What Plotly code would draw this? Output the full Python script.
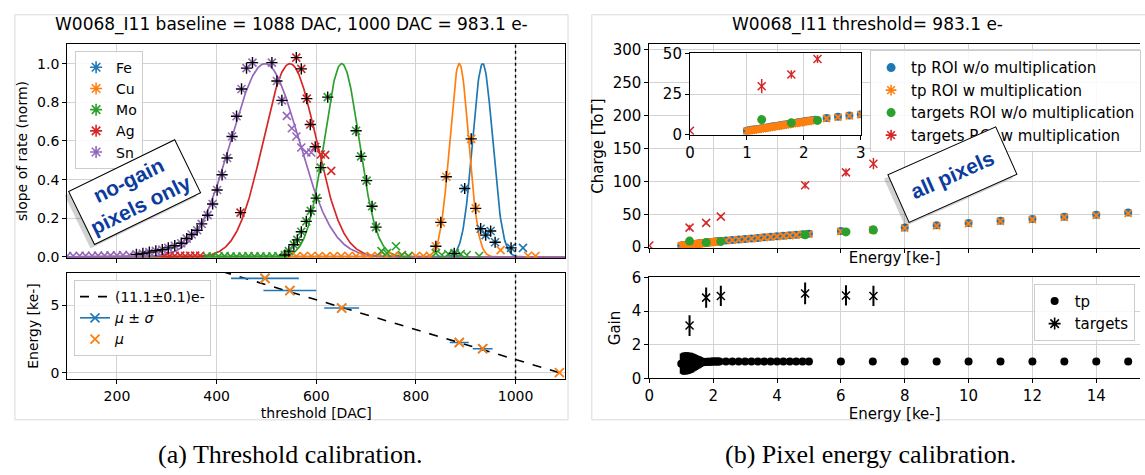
import numpy as np
import plotly.graph_objects as go

W, H = 1145, 475

# ---------------- (a) threshold calibration ----------------
elements = ["Fe", "Cu", "Mo", "Ag", "Sn"]
colors = ["#1f77b4", "#ff7f0e", "#2ca02c", "#d62728", "#9467bd"]
mu_dac = [934, 887, 651, 547, 497]
sigma_dac = [20, 19, 35, 53, 68]
energy_ke = [1.78, 2.24, 4.80, 6.10, 7.00]
baseline_dac = 1088
baseline_energy = 0.0
slope_e_per_dac = 11.1
threshold_dac = 1000

fe_dac = [877, 898, 930, 940, 950, 959, 991, 1015]
fe_rate = [0.018, 0.354, 0.146, 0.113, 0.134, 0.076, 0.047, 0.047]
fe_fit = [1, 1, 1, 1, 1, 1, 1, 0]

cu_dac = [545, 560, 575, 590, 605, 620, 635, 650, 665, 680, 695, 710, 725, 740, 755, 770, 785, 800, 815, 828,
          840, 850, 861, 911, 920, 970, 1025, 1040]
cu_rate = [0.004, 0.003, 0.004, 0.005, 0.004, 0.003, 0.004, 0.004, 0.005, 0.004, 0.003, 0.004, 0.004, 0.005,
           0.004, 0.004, 0.003, 0.004, 0.005, 0.006, 0.055, 0.179, 0.415, 0.611, 0.251, 0.035, 0.006, 0.005]
cu_fit = [0] * 20 + [1] * 5 + [0] * 3

mo_dac = [380, 392, 404, 416, 428, 440, 452, 464, 476, 488, 500, 512, 524,
          537, 545, 555, 562, 570, 580, 589, 600, 609, 623, 680, 690, 701, 712, 720,
          731, 742, 760, 772, 785, 840, 852, 865, 878, 890, 902, 927]
mo_rate = [0.003, 0.002, 0.003, 0.004, 0.003, 0.002, 0.003, 0.004, 0.003, 0.003, 0.002, 0.003, 0.004,
           0.010, 0.030, 0.063, 0.088, 0.130, 0.184, 0.238, 0.304, 0.462, 0.827, 0.653, 0.520, 0.395, 0.262, 0.154,
           0.030, 0.020, 0.055, 0.010, 0.005, 0.020, 0.010, 0.015, 0.020, 0.015, 0.010, 0.005]
mo_fit = [0] * 13 + [1] * 15 + [0] * 12

ag_dac = [296, 306, 316, 327, 337, 347, 357, 367, 448, 560, 570, 581, 588, 598, 609, 618, 630]
ag_rate = [0.006, 0.005, 0.006, 0.007, 0.005, 0.006, 0.007, 0.006,
           0.229, 1.031, 0.973, 0.819, 0.685, 0.570, 0.530, 0.528, 0.445]
ag_fit = [0] * 8 + [1] * 6 + [0] * 3

sn_dac = [100, 112, 125, 137, 150, 162, 175, 187, 200, 212, 225,
          239, 252, 265, 278, 291, 303, 316, 329, 340, 350, 361, 370, 382, 392, 401, 411, 421, 431, 440, 450,
          460, 472, 511, 521, 531, 541, 551, 560, 570, 580, 590]
sn_rate = [0.005, 0.005, 0.006, 0.006, 0.006, 0.007, 0.007, 0.008, 0.008, 0.009, 0.010,
           0.013, 0.018, 0.025, 0.032, 0.038, 0.047, 0.058, 0.071, 0.095, 0.116, 0.138, 0.171, 0.216, 0.274,
           0.346, 0.425, 0.512, 0.623, 0.728, 0.869, 0.977, 1.005, 1.005, 0.910, 0.810,
           0.730, 0.666, 0.623, 0.566, 0.541, 0.540]
sn_fit = [0] * 11 + [1] * 25 + [0] * 6

scans = [(fe_dac, fe_rate, fe_fit), (cu_dac, cu_rate, cu_fit), (mo_dac, mo_rate, mo_fit),
         (ag_dac, ag_rate, ag_fit), (sn_dac, sn_rate, sn_fit)]

# ---------------- (b) pixel energy calibration ----------------
tp_energy = [1.00, 1.04, 1.08, 1.12, 1.16, 1.20, 1.24, 1.28, 1.32, 1.36, 1.40, 1.44, 1.48, 1.52, 1.56, 1.60,
             1.64, 1.68, 1.72, 1.76, 1.80, 1.84, 1.88, 1.92, 1.96, 2.00, 2.04, 2.08, 2.12, 2.16, 2.20,
             2.4, 2.6, 2.8, 3.0, 3.2, 3.4, 3.6, 3.8, 4.0, 4.2, 4.4, 4.6, 4.8, 5.0,
             6, 7, 8, 9, 10, 11, 12, 13, 14, 15]
tp_charge_nomult = [2.5, 2.7, 3.0, 3.2, 3.4, 3.6, 3.9, 4.1, 4.3, 4.5, 4.8, 5.0, 5.2, 5.4, 5.7, 5.9,
                    6.1, 6.3, 6.6, 6.8, 7.0, 7.2, 7.5, 7.7, 7.9, 8.1, 8.4, 8.6, 8.8, 9.0, 9.2,
                    10.3, 11.0, 11.8, 12.6, 13.4, 14.2, 15.0, 15.8, 16.6, 17.4, 18.2, 19.0, 19.8, 20.6,
                    24.5, 27.0, 29.8, 33.2, 36.6, 40.3, 43.0, 46.3, 49.3, 52.6]
tp_charge_mult = [2.2, 2.4, 2.7, 2.9, 3.2, 3.4, 3.6, 3.8, 4.1, 4.3, 4.5, 4.7, 5.0, 5.2, 5.4, 5.6,
                  5.9, 6.1, 6.3, 6.5, 6.8, 7.0, 7.2, 7.4, 7.7, 7.9, 8.1, 8.3, 8.6, 8.8, 9.0,
                  10.0, 10.8, 11.6, 12.3, 13.1, 13.9, 14.7, 15.5, 16.3, 17.1, 17.9, 18.6, 19.4, 20.2,
                  23.8, 26.4, 29.0, 32.4, 35.8, 39.4, 42.2, 45.4, 48.4, 51.4]
tp_gain = [0.88, 0.88, 0.88, 0.89, 0.89, 0.90, 0.90, 0.91, 0.92, 0.93, 0.94, 0.94, 0.95, 0.96, 0.96, 0.97,
           0.97, 0.98, 0.98, 0.98, 0.99, 0.99, 0.99, 0.99, 1.00, 1.00, 1.00, 1.00, 1.00, 1.00, 1.00,
           1.00, 1.00, 1.00, 1.00, 1.00, 1.00, 1.00, 1.00, 1.00, 1.00, 1.00, 1.00, 1.00, 1.00,
           1.00, 1.00, 1.00, 1.00, 1.00, 1.00, 1.00, 1.00, 1.00, 1.00]
tp_gain_err = [0.60, 0.64, 0.66, 0.66, 0.66, 0.65, 0.64, 0.62, 0.60, 0.57, 0.53, 0.49, 0.45, 0.41, 0.37, 0.33,
               0.29, 0.25, 0.22, 0.19, 0.16, 0.14, 0.12, 0.10, 0.09, 0.08, 0.07, 0.06, 0.05, 0.05, 0.05,
               0.03, 0.03, 0.03, 0.03, 0.03, 0.03, 0.03, 0.03, 0.03, 0.03, 0.03, 0.03, 0.03, 0.03,
               0.02, 0.02, 0.02, 0.02, 0.02, 0.02, 0.02, 0.02, 0.02, 0.02]

tg_energy = [1.26, 1.78, 2.24, 4.88, 6.16, 7.02]
tg_charge_nomult = [9.3, 7.3, 8.8, 18.8, 23.3, 26.0]
tgm_energy = [0.0, 1.26, 1.78, 2.24, 4.88, 6.16, 7.02]
tgm_charge = [2.5, 29.8, 37.0, 46.5, 94.0, 113.6, 126.8]
tgm_charge_err = [0.5, 4.4, 2.5, 2.5, 5.0, 6.0, 8.5]
tg_gain = [3.14, 4.80, 4.90, 5.05, 4.93, 4.90]
tg_gain_err = [0.62, 0.60, 0.60, 0.65, 0.60, 0.60]

FONT = "DejaVu Sans"
TXT_BLUE = "#0b3c9e"


def open_marker(symbol, size, color, width):
    return dict(symbol=symbol, size=size, color=color, line=dict(color=color, width=width))


fig = go.Figure()

# ---- top-left: fitted gaussians + scans ----
grid = np.linspace(100, 1100, 801)
for i, el in enumerate(elements):
    fig.add_trace(go.Scatter(x=grid, y=np.exp(-0.5 * ((grid - mu_dac[i]) / sigma_dac[i]) ** 2),
                             mode="lines", line=dict(color=colors[i], width=1.7),
                             showlegend=False, xaxis="x", yaxis="y", hoverinfo="skip"))
for i, el in enumerate(elements):
    d, r, f = scans[i]
    fig.add_trace(go.Scatter(x=d, y=r, mode="markers", showlegend=False, xaxis="x", yaxis="y",
                             marker=open_marker("x-thin-open", 8, colors[i], 1.6)))
for i, el in enumerate(elements):
    d, r, f = scans[i]
    fd = [a for a, k in zip(d, f) if k]
    fr = [b for b, k in zip(r, f) if k]
    fig.add_trace(go.Scatter(x=fd, y=fr, mode="markers", showlegend=False, xaxis="x", yaxis="y",
                             marker=open_marker("cross-thin-open", 8, "black", 1.4)))
for i, el in enumerate(elements):
    fig.add_trace(go.Scatter(x=[None], y=[None], mode="markers", name=el, legend="legend",
                             xaxis="x", yaxis="y", marker=open_marker("asterisk-open", 10, colors[i], 1.6)))

# ---- bottom-left: calibration ----
line_dac = np.array([100, 1100])
fig.add_trace(go.Scatter(x=line_dac, y=(baseline_dac - line_dac) * slope_e_per_dac / 1000.0,
                         mode="lines", name="(11.1±0.1)e-", legend="legend2",
                         line=dict(color="black", width=1.6, dash="dash"), xaxis="x2", yaxis="y2"))
fig.add_trace(go.Scatter(x=mu_dac, y=energy_ke, mode="markers", showlegend=False,
                         error_x=dict(type="data", array=sigma_dac, color=colors[0], thickness=1.6, width=0),
                         marker=open_marker("x-thin-open", 9, colors[0], 1.6),
                         xaxis="x2", yaxis="y2"))
fig.add_trace(go.Scatter(x=[None], y=[None], mode="lines+markers", name="<i>μ</i> ± <i>σ</i>", legend="legend2",
                         line=dict(color=colors[0], width=1.6),
                         marker=open_marker("x-thin-open", 9, colors[0], 1.6),
                         xaxis="x2", yaxis="y2"))
fig.add_trace(go.Scatter(x=mu_dac + [baseline_dac], y=energy_ke + [baseline_energy], mode="markers",
                         name="<i>μ</i>", legend="legend2",
                         marker=open_marker("x-thin-open", 9, colors[1], 1.8),
                         xaxis="x2", yaxis="y2"))

# ---- top-right main + inset ----
for xa, ya in [("x3", "y3"), ("x5", "y5")]:
    fig.add_trace(go.Scatter(x=tp_energy, y=tp_charge_nomult, mode="markers", showlegend=False,
                             marker=dict(symbol="circle", size=8, color=colors[0]), xaxis=xa, yaxis=ya))
    fig.add_trace(go.Scatter(x=tp_energy, y=tp_charge_mult, mode="markers", showlegend=False,
                             marker=open_marker("x-thin-open", 7, colors[1], 2.0),
                             xaxis=xa, yaxis=ya))
    fig.add_trace(go.Scatter(x=tg_energy, y=tg_charge_nomult, mode="markers", showlegend=False,
                             marker=dict(symbol="circle", size=9, color=colors[2]), xaxis=xa, yaxis=ya))
    fig.add_trace(go.Scatter(x=tgm_energy, y=tgm_charge, mode="markers", showlegend=False,
                             error_y=dict(type="data", array=tgm_charge_err, color=colors[3], thickness=1.5, width=0),
                             marker=open_marker("x-thin-open", 8, colors[3], 1.5),
                             xaxis=xa, yaxis=ya))

legend3_items = [("tp ROI w/o multiplication", "circle", colors[0]),
                 ("tp ROI w multiplication", "asterisk-open", colors[1]),
                 ("targets ROI w/o multiplication", "circle", colors[2]),
                 ("targets ROI w multiplication", "asterisk-open", colors[3])]
for name, sym, col in legend3_items:
    mk = open_marker(sym, 9, col, 1.6) if sym.endswith("open") else dict(symbol=sym, size=9, color=col)
    fig.add_trace(go.Scatter(x=[None], y=[None], mode="markers", name=name, legend="legend3",
                             marker=mk, xaxis="x3", yaxis="y3"))

# ---- bottom-right gain ----
fig.add_trace(go.Scatter(x=tp_energy, y=tp_gain, mode="markers", name="tp", legend="legend4",
                         error_y=dict(type="data", array=tp_gain_err, color="black", thickness=3, width=0),
                         marker=dict(symbol="circle", size=8, color="black"), xaxis="x4", yaxis="y4"))
fig.add_trace(go.Scatter(x=tg_energy, y=tg_gain, mode="markers", showlegend=False,
                         error_y=dict(type="data", array=tg_gain_err, color="black", thickness=2, width=0),
                         marker=open_marker("x-thin-open", 8, "black", 1.5),
                         xaxis="x4", yaxis="y4"))
fig.add_trace(go.Scatter(x=[None], y=[None], mode="markers", name="targets", legend="legend4",
                         marker=open_marker("asterisk-open", 10, "black", 1.6), xaxis="x4", yaxis="y4"))


def px_x(p):
    return p / W


def px_y(p):
    return 1 - p / H


def ax(size, **kw):
    d = dict(showline=True, linecolor="black", linewidth=1, mirror=True, ticks="outside", ticklen=4,
             tickcolor="black", showgrid=True, gridcolor="#d3d3d3", gridwidth=1, zeroline=False,
             tickfont=dict(family=FONT, size=size, color="black"))
    d.update(kw)
    return d


def ttl(text, size, standoff):
    return dict(text=text, font=dict(family=FONT, size=size, color="black"), standoff=standoff)


LX = [px_x(62.7), px_x(565.3)]
RX = [px_x(650), 1.0]
fig.update_layout(
    width=W, height=H, margin=dict(l=0, r=0, t=0, b=0),
    paper_bgcolor="white", plot_bgcolor="white",
    font=dict(family=FONT, color="black"),
    xaxis=ax(14, domain=LX, range=[100, 1100], anchor="y", tickvals=[200, 400, 600, 800, 1000],
             showticklabels=False),
    yaxis=ax(14, domain=[px_y(258.5), px_y(36.7)], range=[-0.004, 1.1], anchor="x",
             tickvals=[0, 0.2, 0.4, 0.6, 0.8, 1.0], tickformat=".1f",
             title=ttl("slope of rate (norm)", 14, 6)),
    xaxis2=ax(14, domain=LX, range=[100, 1100], anchor="y2", tickvals=[200, 400, 600, 800, 1000],
              title=ttl("threshold [DAC]", 14, 4)),
    yaxis2=ax(14, domain=[px_y(385), px_y(274)], range=[-0.5, 7.43], anchor="x2", tickvals=[0, 5],
              title=ttl("Energy [ke-]", 14, 8)),
    xaxis3=ax(15, domain=RX, range=[0, 15.37], anchor="y3", tickvals=list(range(0, 15, 2)),
              showticklabels=False, title=ttl("Energy [ke-]", 15, 0)),
    yaxis3=ax(15, domain=[px_y(248.3), px_y(36.7)], range=[-1, 308], anchor="x3", mirror=False,
              tickvals=[0, 50, 100, 150, 200, 250, 300], title=ttl("Charge [ToT]", 15, 5)),
    xaxis4=ax(15, domain=RX, range=[0, 15.37], anchor="y4", tickvals=list(range(0, 15, 2)),
              title=ttl("Energy [ke-]", 15, 3)),
    yaxis4=ax(15, domain=[px_y(384), px_y(279)], range=[0, 6], anchor="x4", mirror=False,
              tickvals=[0, 2, 4, 6], title=ttl("Gain", 15, 7)),
    xaxis5=ax(15, domain=[px_x(691), px_x(863.3)], range=[0, 3], anchor="y5", tickvals=[0, 1, 2, 3]),
    yaxis5=ax(15, domain=[px_y(130.7), px_y(46)], range=[0, 50], anchor="x5", tickvals=[0, 25, 50]),
)

leg = dict(xanchor="left", yanchor="top", bgcolor="rgba(255,255,255,0.85)", bordercolor="#cccccc",
           borderwidth=1, tracegroupgap=0, itemwidth=30)
fig.update_layout(
    legend=dict(leg, x=px_x(70.7), y=px_y(43.3), font=dict(family=FONT, size=14, color="black")),
    legend2=dict(leg, x=px_x(69.6), y=px_y(281.7), font=dict(family=FONT, size=14, color="black")),
    legend3=dict(leg, x=px_x(872.7), y=px_y(43), font=dict(family=FONT, size=15, color="black")),
    legend4=dict(leg, x=px_x(1037.7), y=px_y(285.7), font=dict(family=FONT, size=15, color="black")),
)

# threshold marker lines
for xr, yr in [("x", "y domain"), ("x2", "y2 domain")]:
    fig.add_shape(type="line", xref=xr, yref=yr, x0=threshold_dac, x1=threshold_dac, y0=0, y1=1,
                  line=dict(color="black", width=1.4, dash="dot"))

# sub-figure frames
for x0, x1 in [(10, 568), (592, 1160)]:
    fig.add_shape(type="rect", xref="paper", yref="paper", x0=px_x(x0), x1=px_x(x1), y0=px_y(427), y1=px_y(6),
                  line=dict(color="#d9d9d9", width=1), layer="below")

# titles
fig.add_annotation(x=px_x(289), y=px_y(16.5), xref="paper", yref="paper", showarrow=False,
                   xanchor="center", yanchor="middle",
                   text="W0068_I11 baseline = 1088 DAC, 1000 DAC = 983.1 e-",
                   font=dict(family=FONT, size=17, color="black"))
fig.add_annotation(x=px_x(870), y=px_y(16.5), xref="paper", yref="paper", showarrow=False,
                   xanchor="center", yanchor="middle",
                   text="W0068_I11 threshold= 983.1 e-", font=dict(family=FONT, size=17, color="black"))

# captions
fig.add_annotation(x=px_x(288), y=px_y(463), xref="paper", yref="paper", showarrow=False,
                   xanchor="center", yanchor="middle",
                   text="(a) Threshold calibration.", font=dict(family="Liberation Serif", size=26, color="black"))
fig.add_annotation(x=px_x(873), y=px_y(463), xref="paper", yref="paper", showarrow=False,
                   xanchor="center", yanchor="middle",
                   text="(b) Pixel energy calibration.",
                   font=dict(family="Liberation Serif", size=26, color="black"))

# labelled boxes with shadow
boxes = [("x", "y", 236, 0.337, "<b>no-gain<br>pixels only</b>", -26, 4),
         ("x3", "y3", 9.5, 110, "<b>all pixels</b>", -24, 14)]
for xr, yr, bx, by, txt, ang, pad in boxes:
    fig.add_annotation(x=bx, y=by, xref=xr, yref=yr, showarrow=False, text=txt, textangle=ang,
                       xshift=-4, yshift=-4, bgcolor="rgba(0,0,0,0.18)", borderpad=pad, borderwidth=1,
                       bordercolor="rgba(0,0,0,0)",
                       font=dict(family="Liberation Sans", size=21, color="rgba(0,0,0,0)"))
    fig.add_annotation(x=bx, y=by, xref=xr, yref=yr, showarrow=False, text=txt, textangle=ang,
                       bgcolor="white", bordercolor="black", borderwidth=1, borderpad=pad,
                       font=dict(family="Liberation Sans", size=21, color=TXT_BLUE))

fig.write_html("out.html")
